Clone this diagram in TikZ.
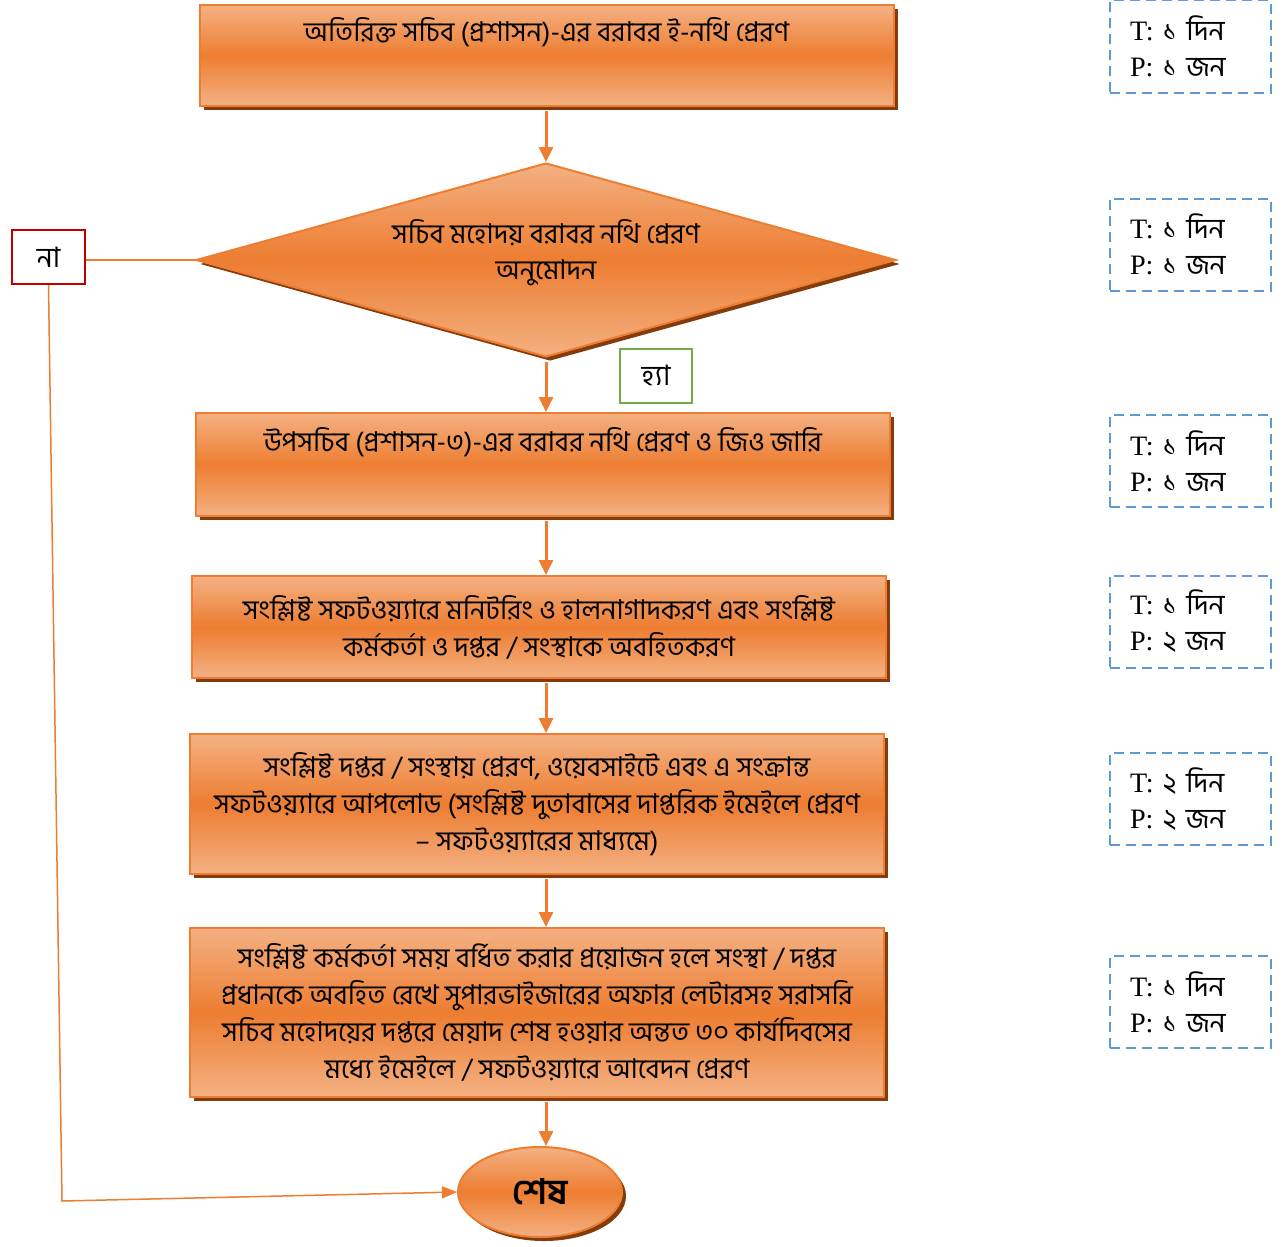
\documentclass[tikz,border=0pt]{standalone}
\usepackage{fontspec}
\setmainfont{Liberation Serif}
\newfontfamily\bn[Script=Bengali]{Hind Siliguri}
\usetikzlibrary{positioning,shapes.geometric,arrows.meta,shadows}
\definecolor{boxorange}{RGB}{237,125,49}
\definecolor{boxlight}{RGB}{244,177,131}
\definecolor{shadowbrown}{RGB}{132,60,12}
\definecolor{noRed}{RGB}{192,0,0}
\definecolor{yesGreen}{RGB}{112,173,71}
\definecolor{tpblue}{RGB}{91,155,213}

\tikzset{
  orangefill/.style={draw=boxorange, line width=0.04cm, top color=boxlight, bottom color=boxlight, middle color=boxorange,
    drop shadow={shadow xshift=0.08cm, shadow yshift=-0.08cm, fill=shadowbrown, opacity=1}},
  stepbox/.style={orangefill, rectangle, minimum width=13.88cm, inner ysep=0.1cm, font=\bn\fontsize{15.5}{21}\selectfont},
  decisionbox/.style={orangefill, diamond, aspect=3.6, minimum width=14cm, minimum height=3.88cm, inner sep=0pt, align=center, font=\bn\fontsize{15.5}{19.5}\selectfont},
  endbox/.style={orangefill, ellipse, minimum width=3.28cm, minimum height=1.8cm, font=\bn\bfseries\fontsize{20}{24}\selectfont},
  answerbox/.style={draw, fill=white, line width=0.04cm, minimum width=1.45cm, minimum height=1.08cm, font=\bn\fontsize{16}{20}\selectfont},
  tpbox/.style={draw=tpblue, line width=0.04cm, dash pattern=on 0.2cm off 0.12cm, minimum width=3.22cm, minimum height=1.84cm,
    text width=2.42cm, inner xsep=0.4cm, align=left, font=\fontsize{16}{20.5}\selectfont},
  flow/.style={draw=boxorange, line width=0.06cm, -{Triangle[length=0.3cm,width=0.28cm]}, shorten <=0.08cm},
  noline/.style={draw=boxorange, line width=0.03cm}
}

\begin{document}
\begin{tikzpicture}
\useasboundingbox (0,0) rectangle (25.66,-24.94);

% main flow
\node[stepbox, minimum height=2.02cm, text height=0.64cm, text depth=1.18cm] (b1) at (10.93,-1.11) {অতিরিক্ত সচিব (প্রশাসন)-এর বরাবর ই-নথি প্রেরণ};
\node[decisionbox] (d) at (10.92,-5.2) {\shortstack{সচিব মহোদয় বরাবর নথি প্রেরণ\\[0.16cm]অনুমোদন}\rule[-0.42cm]{0pt}{0.42cm}};
\node[stepbox, minimum height=2.06cm, text height=0.66cm, text depth=1.2cm] (b3) at (10.86,-9.29) {উপসচিব (প্রশাসন-৩)-এর বরাবর নথি প্রেরণ ও জিও জারি};
\node[stepbox, align=center, minimum height=2.04cm] (b4) at (10.78,-12.54) {সংশ্লিষ্ট সফটওয়্যারে মনিটরিং ও হালনাগাদকরণ এবং সংশ্লিষ্ট\\কর্মকর্তা ও দপ্তর / সংস্থাকে অবহিতকরণ};
\node[stepbox, align=center, minimum height=2.8cm] (b5) at (10.74,-16.08) {সংশ্লিষ্ট দপ্তর / সংস্থায় প্রেরণ, ওয়েবসাইটে এবং এ সংক্রান্ত\\সফটওয়্যারে আপলোড (সংশ্লিষ্ট দুতাবাসের দাপ্তরিক ইমেইলে প্রেরণ\\– সফটওয়্যারের মাধ্যমে)};
\node[stepbox, align=center, minimum height=3.38cm] (b6) at (10.74,-20.25) {সংশ্লিষ্ট কর্মকর্তা সময় বর্ধিত করার প্রয়োজন হলে সংস্থা / দপ্তর\\প্রধানকে অবহিত রেখে সুপারভাইজারের অফার লেটারসহ সরাসরি\\সচিব মহোদয়ের দপ্তরে মেয়াদ শেষ হওয়ার অন্তত ৩০ কার্যদিবসের\\মধ্যে ইমেইলে / সফটওয়্যারে আবেদন প্রেরণ};
\node[endbox] (end) at (10.8,-23.84) {শেষ};

% answers
\node[answerbox, draw=noRed] (no) at (0.97,-5.14) {না};
\node[answerbox, draw=yesGreen] (yes) at (13.12,-7.51) {হ্যা};
\coordinate (nocorner) at (1.24,-24.02);

\draw[flow] (b1.south -| d.north) -- (d.north);
\draw[flow] (d.south) -- (b3.north -| d.south);
\draw[flow] (b3.south -| d.south) -- (b4.north -| d.south);
\draw[flow] (b4.south -| d.south) -- (b5.north -| d.south);
\draw[flow] (b5.south -| d.south) -- (b6.north -| d.south);
\draw[flow] (b6.south -| d.south) -- (end.north -| d.south);
\draw[noline] (no.east |- d.west) -- (d.west);
\draw[noline, -{Triangle[length=0.3cm,width=0.24cm]}] (no.south) -- (nocorner) -- (end.west);

% time and people
\node[tpbox] (tp1) at (23.81,-0.93) {T: {\bn ১ দিন}\\P: {\bn ১ জন}};
\node[tpbox] (tp2) at (23.81,-4.89) {T: {\bn ১ দিন}\\P: {\bn ১ জন}};
\node[tpbox] (tp3) at (23.81,-9.22) {T: {\bn ১ দিন}\\P: {\bn ১ জন}};
\node[tpbox] (tp4) at (23.81,-12.43) {T: {\bn ১ দিন}\\P: {\bn ২ জন}};
\node[tpbox] (tp5) at (23.81,-15.98) {T: {\bn ২ দিন}\\P: {\bn ২ জন}};
\node[tpbox] (tp6) at (23.81,-20.04) {T: {\bn ১ দিন}\\P: {\bn ১ জন}};
\end{tikzpicture}
\end{document}
